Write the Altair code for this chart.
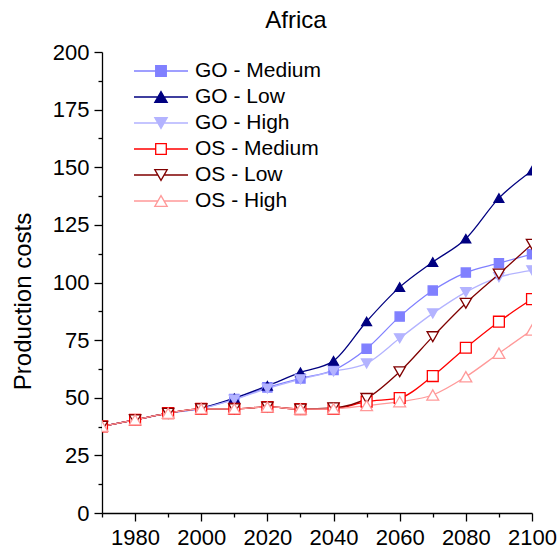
import altair as alt
import pandas as pd

years = [1970, 1980, 1990, 2000, 2010, 2020, 2030, 2040, 2050, 2060, 2070, 2080, 2090, 2100]

series_names = ["GO - Medium", "GO - Low", "GO - High", "OS - Medium", "OS - Low", "OS - High"]

go_medium = [37.6, 40.4, 43.3, 45.4, 49.4, 54.5, 58.4, 62.0, 71.3, 85.2, 96.5, 104.3, 108.4, 112.3]
go_low = [37.6, 40.4, 43.3, 45.5, 49.8, 55.2, 61.0, 66.0, 83.1, 98.0, 108.9, 119.0, 136.6, 148.5]
go_high = [37.6, 40.4, 43.3, 45.3, 49.2, 54.0, 58.0, 61.4, 64.9, 75.8, 86.6, 95.8, 102.3, 105.3]
os_medium = [37.6, 40.4, 43.3, 45.2, 45.2, 46.0, 45.1, 45.2, 48.3, 49.9, 59.4, 71.7, 83.0, 92.8]
os_low = [37.6, 40.4, 43.3, 45.2, 45.2, 46.0, 45.1, 45.6, 49.7, 61.3, 76.5, 91.0, 103.7, 116.6]
os_high = [37.6, 40.4, 43.3, 45.2, 45.2, 46.0, 45.1, 45.2, 46.6, 48.3, 51.2, 59.1, 69.3, 79.4]

x_major = [1980, 2000, 2020, 2040, 2060, 2080, 2100]
x_minor = [1970, 1990, 2010, 2030, 2050, 2070, 2090]
y_major = [0, 25, 50, 75, 100, 125, 150, 175, 200]
y_minor = [12.5, 37.5, 62.5, 87.5, 112.5, 137.5, 162.5, 187.5]

stroke_colors = ["#8080FF", "#000080", "#B3B3FF", "#FF0000", "#800000", "#FF9999"]
fill_colors = ["#8080FF", "#000080", "#B3B3FF", "white", "white", "white"]
plot_shapes = ["square", "triangle-up", "triangle-down", "square", "triangle-down", "triangle-up"]
plot_sizes = [85, 140, 140, 85, 140, 140]

SQ = "M-0.53,-0.53L0.53,-0.53L0.53,0.53L-0.53,0.53Z"
TU = "M0,-0.54L0.62,0.54L-0.62,0.54Z"
TD = "M0,0.54L0.62,-0.54L-0.62,-0.54Z"
legend_shapes = [
    "M-2.7,0L2.7,0" + SQ,
    "M-2.7,0L2.7,0" + TU,
    "M-2.7,0L2.7,0" + TD,
    "M-2.7,0L-0.53,0M0.53,0L2.7,0" + SQ,
    "M-2.7,0L-0.31,0M0.31,0L2.7,0" + TD,
    "M-2.7,0L-0.31,0M0.31,0L2.7,0" + TU,
]

all_values = [go_medium, go_low, go_high, os_medium, os_low, os_high]
rows = []
for name, vals in zip(series_names, all_values):
    for yr, v in zip(years, vals):
        rows.append({"series": name, "year": yr, "value": v})
df = pd.DataFrame(rows)

FONT = "Liberation Sans"
xscale = alt.Scale(domain=[1970, 2100], nice=False, zero=False)
yscale = alt.Scale(domain=[0, 200], nice=False)

common_axis = dict(
    grid=False,
    labelOverlap=False,
    labelFontSize=22,
    labelFont=FONT,
    labelColor="black",
    domainColor="black",
    tickColor="black",
    domainWidth=1.3,
    tickWidth=1.3,
    labelFlush=False,
)

x_major_axis = alt.Axis(values=x_major, format="d", title=None, tickSize=8, labelPadding=6,
                        orient="bottom", **common_axis)
x_minor_axis = alt.Axis(values=x_minor, title=None, tickSize=4, labels=False, domain=False,
                        orient="bottom", grid=False, tickColor="black", tickWidth=1.3)
y_major_axis = alt.Axis(
    values=y_major, orient="left", tickSize=8, labelPadding=5,
    title="Production costs", titleFontSize=24, titleFont=FONT, titleFontWeight="normal",
    titleColor="black", titleX=-79, titleY=249, titleAlign="center", titleBaseline="middle",
    titleAngle=270, **common_axis,
)
y_minor_axis = alt.Axis(values=y_minor, orient="left", title=None, tickSize=4, labels=False,
                        domain=False, grid=False, tickColor="black", tickWidth=1.3)

lines = alt.Chart(df).mark_line(interpolate="monotone", strokeWidth=1.3, clip=True).encode(
    x=alt.X("year:Q", scale=xscale, axis=x_major_axis),
    y=alt.Y("value:Q", scale=yscale, axis=y_major_axis),
    stroke=alt.Stroke("series:N", scale=alt.Scale(domain=series_names, range=stroke_colors), legend=None),
    detail="series:N",
)

points = alt.Chart(df).mark_point(filled=False, strokeWidth=1.3, opacity=1, clip=True).encode(
    x=alt.X("year:Q", scale=xscale, axis=x_minor_axis),
    y=alt.Y("value:Q", scale=yscale, axis=y_minor_axis),
    shape=alt.Shape("series:N", scale=alt.Scale(domain=series_names, range=plot_shapes), legend=None),
    fill=alt.Fill("series:N", scale=alt.Scale(domain=series_names, range=fill_colors), legend=None),
    stroke=alt.Stroke("series:N", scale=alt.Scale(domain=series_names, range=stroke_colors), legend=None),
    size=alt.Size("series:N", scale=alt.Scale(domain=series_names, range=plot_sizes), legend=None),
)

legend_cfg = alt.Legend(
    title=None,
    orient="none",
    legendX=48,
    legendY=8,
    padding=0,
    symbolSize=400,
    symbolStrokeWidth=1.3,
    symbolOpacity=1,
    labelOffset=23,
    labelFontSize=21,
    labelFont=FONT,
    labelColor="black",
    rowPadding=5,
)

legend_layer = alt.Chart(df).mark_point(filled=False, strokeWidth=1.3, clip=True).encode(
    x=alt.X("year:Q", scale=xscale, axis=None),
    y=alt.Y("value:Q", scale=yscale, axis=None),
    shape=alt.Shape("series:N", scale=alt.Scale(domain=series_names, range=legend_shapes), legend=legend_cfg),
    fill=alt.Fill("series:N", scale=alt.Scale(domain=series_names, range=fill_colors), legend=legend_cfg),
    stroke=alt.Stroke("series:N", scale=alt.Scale(domain=series_names, range=stroke_colors), legend=legend_cfg),
    opacity=alt.value(0),
    size=alt.value(400),
)

chart = alt.layer(lines, points, legend_layer).resolve_scale(
    shape="independent", fill="independent", stroke="independent", size="independent"
).resolve_axis(x="independent", y="independent").properties(
    width=430,
    height=461,
    padding={"left": 102, "top": 52, "right": 27, "bottom": 38},
    autosize=alt.AutoSizeParams(type="none"),
    title=alt.TitleParams(
        "Africa", fontSize=24, font=FONT, fontWeight="normal", color="black",
        anchor="middle", dx=-21, dy=23, offset=12, baseline="alphabetic",
    ),
).configure_view(stroke=None)

chart.save("out.html", embed_options={"renderer": "svg", "actions": False})
